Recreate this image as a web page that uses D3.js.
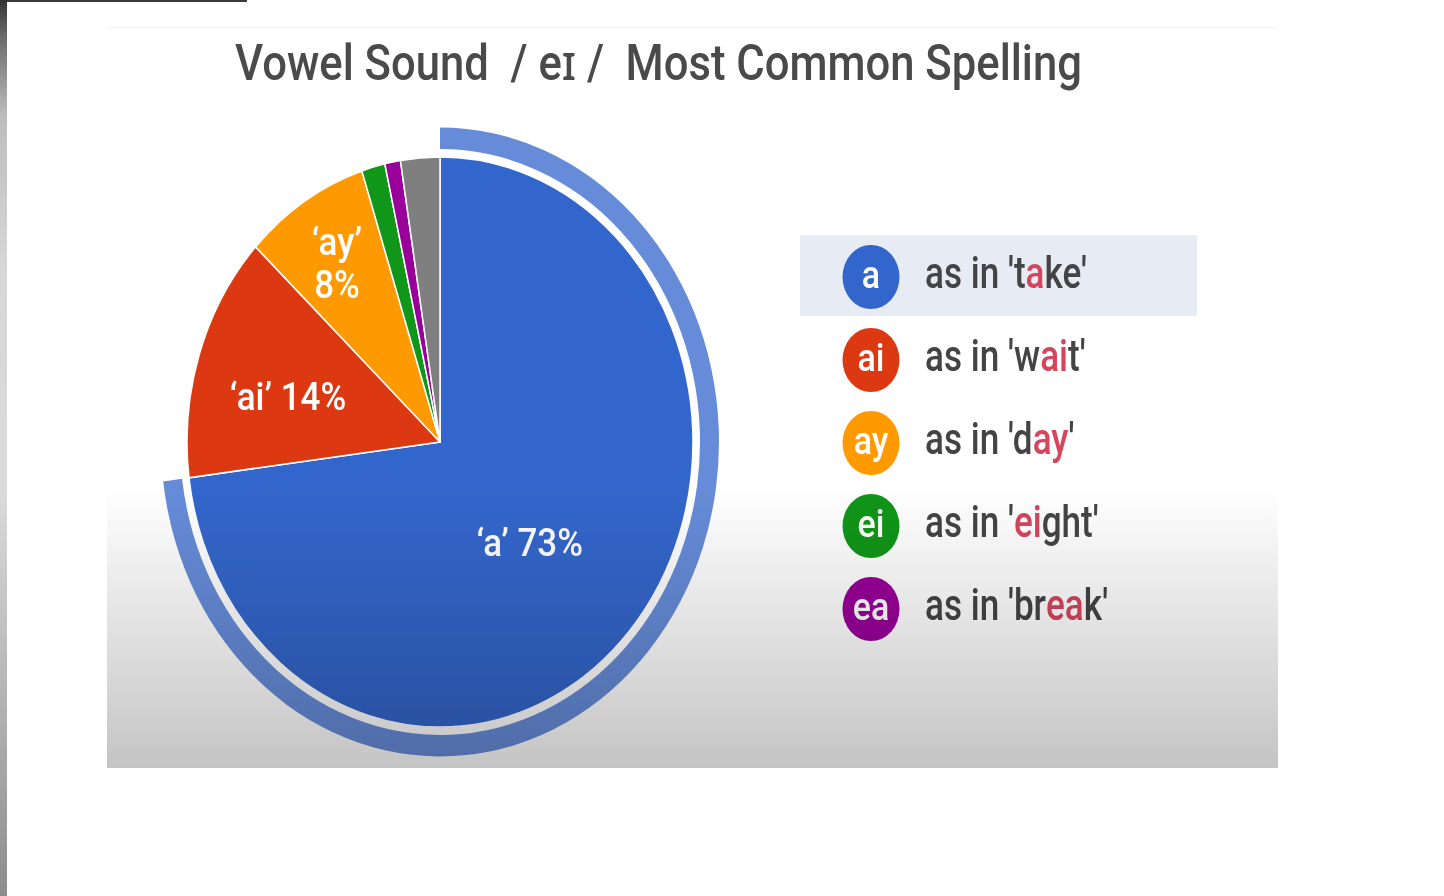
<!DOCTYPE html>
<html>
<head>
<meta charset="utf-8">
<script src="https://cdn.jsdelivr.net/npm/d3@7"></script>
<style>
  body { margin: 0; background: #fff; }
  svg { display: block; font-family: Roboto, "Noto Sans", sans-serif; }
  text { white-space: pre; }
</style>
</head>
<body>
<div id="chart"></div>
<script>
// pie slices, clockwise from 12 o'clock
const spellings = ["a", "ai", "ay", "ei", "ea", "other"];
const shares = [73, 14, 8, 1.5, 1, 2.5];
const sliceColors = ["#3366cc", "#dc3912", "#ff9900", "#109618", "#990099", "#7f7f7f"];
const sliceLabels = [["‘a’ 73%"], ["‘ai’ 14%"], ["‘ay’", "8%"], [], [], []];

// legend rows: example word split round the letters shown in red
const legendKeys = ["a", "ai", "ay", "ei", "ea"];
const legendWords = [["t", "a", "ke"], ["w", "ai", "t"], ["d", "ay", ""], ["", "ei", "ght"], ["br", "ea", "k"]];

const titleText = "Vowel Sound  / eɪ /  Most Common Spelling";

const W = 1444, H = 896;
const SY = 1.127; // the screenshot is stretched a bit vertically
const cx = 440, cy = 442 / SY, R = 253;

let svg = d3.select("#chart").append("svg")
    .attr("width", W)
    .attr("height", H);

let defs = svg.append("defs");

// dark/light strip down the left edge
let side = defs.append("linearGradient").attr("id", "side")
    .attr("x1", 0).attr("y1", 0).attr("x2", 0).attr("y2", 1);
[[0, "#333"], [0.04, "#6a6a6a"], [0.13, "#bdbdbd"], [0.3, "#d7d7d7"], [0.55, "#dadada"], [0.8, "#b0b0b0"], [1, "#8c8c8c"]]
    .forEach(s => side.append("stop").attr("offset", s[0]).attr("stop-color", s[1]));

// grey shade over the lower part of the slide
let shade = defs.append("linearGradient").attr("id", "shade")
    .attr("x1", 0).attr("y1", 0).attr("x2", 0).attr("y2", 1);
shade.append("stop").attr("offset", 0).attr("stop-color", "#ffffff");
shade.append("stop").attr("offset", 1).attr("stop-color", "#c4c4c4");

svg.append("rect").attr("x", 0).attr("y", 0).attr("width", 7).attr("height", H).attr("fill", "url(#side)");
svg.append("rect").attr("x", 7).attr("y", 0).attr("width", 240).attr("height", 2).attr("fill", "#3a3a3a");
svg.append("rect").attr("x", 107).attr("y", 27).attr("width", 1171).attr("height", 1).attr("fill", "#f3f3f3");

// everything of the chart is drawn in unstretched units
let chart = svg.append("g").attr("transform", "scale(1," + SY + ")");

chart.append("text")
    .attr("x", 235)
    .attr("y", 80 / SY)
    .attr("font-size", 44)
    .attr("font-weight", 500)
    .attr("fill", "#4a4a4a")
    .attr("textLength", 847)
    .attr("lengthAdjust", "spacingAndGlyphs")
    .text(titleText);

// pie
let slices = spellings.map((k, i) => ({ key: k, value: shares[i], color: sliceColors[i], label: sliceLabels[i] }));
let pie = d3.pie().sort(null).value(d => d.value);
let arcs = pie(slices);
let arc = d3.arc().innerRadius(0).outerRadius(R);

let pieG = chart.append("g").attr("transform", "translate(" + cx + "," + cy + ")");

// selection ring round the biggest slice
let ring = d3.arc().innerRadius(R + 7).outerRadius(R + 26);
pieG.append("path")
    .attr("d", ring(arcs[0]))
    .attr("fill", sliceColors[0])
    .attr("opacity", 0.75);

pieG.selectAll("path.slice")
    .data(arcs)
    .join("path")
    .attr("class", "slice")
    .attr("d", arc)
    .attr("fill", d => d.data.color)
    .attr("stroke", "#fff")
    .attr("stroke-width", 1.5);

// label distance from the centre (share of radius) and a small nudge
let labelRadius = { a: 0.52, ai: 0.64, ay: 0.76 };
let labelNudge = { a: [-9, 2], ai: [2, 9], ay: [0, 3] };
arcs.filter(d => d.data.label.length).forEach(d => {
    let lr = R * labelRadius[d.data.key];
    let c = d3.arc().innerRadius(lr).outerRadius(lr).centroid(d);
    let n = labelNudge[d.data.key];
    let lines = d.data.label;
    let t = pieG.append("text")
        .attr("text-anchor", "middle")
        .attr("fill", "#fff")
        .attr("font-size", 35)
        .attr("font-weight", 500);
    lines.forEach((s, j) => {
        t.append("tspan")
            .attr("x", c[0] + n[0])
            .attr("y", c[1] + n[1] + 12.5 - (lines.length - 1) * 19.5 + j * 39)
            .text(s);
    });
});

// legend
let rowY = d3.scalePoint().domain(legendKeys).range([277 / SY, 609 / SY]);

chart.append("rect")
    .attr("x", 800)
    .attr("y", rowY("a") - 42 / SY)
    .attr("width", 397)
    .attr("height", 81 / SY)
    .attr("fill", "#e7ebf4");

let rows = chart.selectAll("g.row")
    .data(legendKeys)
    .join("g")
    .attr("class", "row")
    .attr("transform", d => "translate(0," + rowY(d) + ")");

rows.append("circle")
    .attr("cx", 871)
    .attr("cy", 0)
    .attr("r", 28.5)
    .attr("fill", (d, i) => sliceColors[i]);

rows.append("text")
    .attr("x", 871)
    .attr("y", 10)
    .attr("text-anchor", "middle")
    .attr("font-size", 34)
    .attr("font-weight", 500)
    .attr("fill", "#fff")
    .text(d => d);

let words = rows.append("text")
    .attr("font-size", 40)
    .attr("font-weight", 500)
    .attr("fill", "#444");
words.append("tspan").text((d, i) => "as in '" + legendWords[i][0]);
words.append("tspan").attr("fill", "#d6455e").text((d, i) => legendWords[i][1]);
words.append("tspan").text((d, i) => legendWords[i][2] + "'");

// squeeze the legend words to the width seen in the picture
let k = 162 / words.node().getComputedTextLength();
words.attr("transform", "translate(925," + (11 / SY) + ") scale(" + k + ",1)");

// shade on top, multiplied so the pie darkens too
svg.append("rect")
    .attr("x", 107).attr("y", 488)
    .attr("width", 1171).attr("height", 280)
    .attr("fill", "url(#shade)")
    .style("mix-blend-mode", "multiply");
</script>
</body>
</html>
